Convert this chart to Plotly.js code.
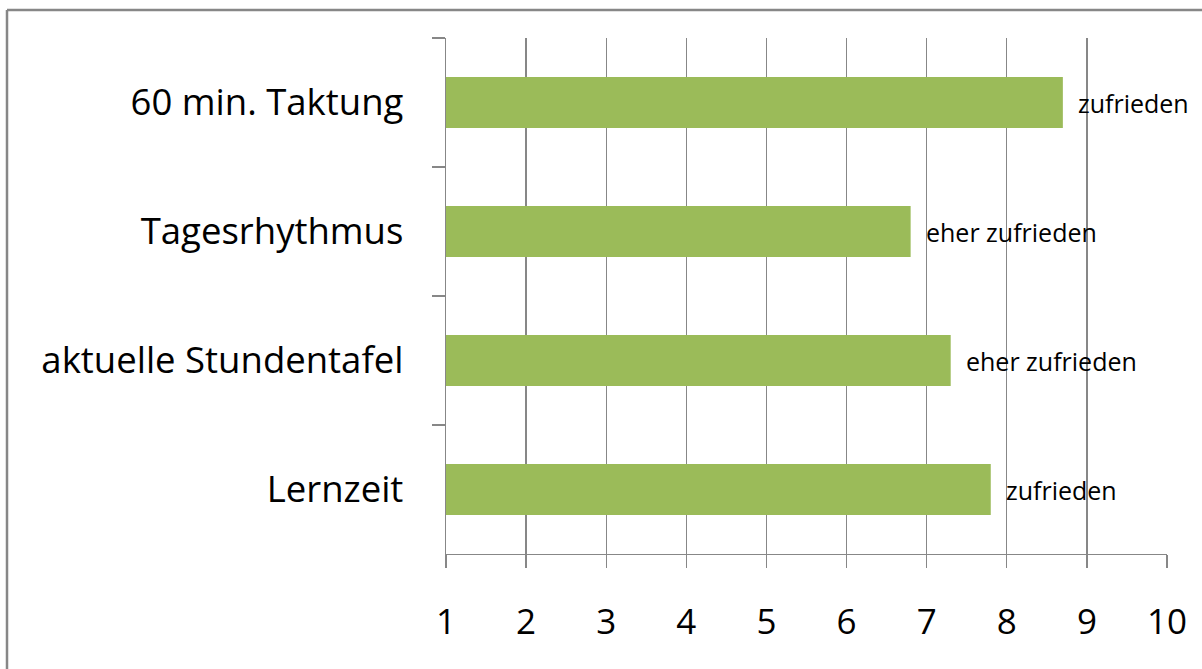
<!DOCTYPE html>
<html>
<head>
<meta charset="utf-8">
<script src="https://cdn.plot.ly/plotly-3.0.1.min.js"></script>
<style>
html,body{margin:0;padding:0;background:#fff;}
#chart{width:1202px;height:669px;}
</style>
</head>
<body>
<div id="chart"></div>
<script>
const categories = ["60 min. Taktung", "Tagesrhythmus", "aktuelle Stundentafel", "Lernzeit"];
const values = [8.7, 6.8, 7.3, 7.8];
const barLabels = ["zufrieden", "eher zufrieden", "eher zufrieden", "zufrieden"];
const tickValues = [1, 2, 3, 4, 5, 6, 7, 8, 9, 10];

const L = 446, R = 1167, T = 38, B = 554;
const W = 1202, H = 669;
const pw = R - L, ph = B - T;

const trace = {
  type: "bar",
  orientation: "h",
  x: values,
  y: categories,
  base: 0,
  marker: {color: "#9bbb59"},
  width: 0.395,
  hoverinfo: "x+y",
  showlegend: false
};

const annotations = categories.map((c, i) => ({
  x: values[i], y: c, xref: "x", yref: "y",
  text: barLabels[i], showarrow: false,
  xanchor: "left", yanchor: "middle", xshift: 13, yshift: 0,
  font: {family: "Open Sans", size: 25, color: "#000"}
}));

const layout = {
  width: W, height: H,
  margin: {l: L, r: W - R, t: T, b: H - B, pad: 0},
  paper_bgcolor: "#fff", plot_bgcolor: "#fff",
  font: {family: "Open Sans", color: "#000"},
  bargap: 0.6,
  xaxis: {
    range: [1, 10],
    tickvals: tickValues,
    ticktext: tickValues.map(String),
    showgrid: true, gridcolor: "#878787", gridwidth: 1.3,
    zeroline: false,
    showline: true, linecolor: "#878787", linewidth: 1.3,
    ticks: "outside", ticklen: 13, tickcolor: "#878787", tickwidth: 1.3,
    tickfont: {family: "Open Sans", size: 35, color: "#000"},
    ticklabelstandoff: 24,
    fixedrange: true
  },
  yaxis: {
    type: "category",
    categoryorder: "array", categoryarray: categories,
    autorange: "reversed",
    tickson: "boundaries",
    showgrid: false, zeroline: false,
    showline: true, linecolor: "#878787", linewidth: 1.3,
    ticks: "outside", ticklen: 13, tickcolor: "#878787", tickwidth: 1.3,
    tickfont: {family: "Open Sans", size: 36.5, color: "#000"},
    ticklabelstandoff: 34,
    fixedrange: true
  },
  annotations: annotations,
  shapes: [
    {type: "line", xref: "paper", yref: "paper",
     x0: (7 - L) / pw, x1: (W + 5 - L) / pw, y0: (B - 10) / ph, y1: (B - 10) / ph,
     line: {color: "#878787", width: 2.5}},
    {type: "line", xref: "paper", yref: "paper",
     x0: (7 - L) / pw, x1: (7 - L) / pw, y0: (B - 10) / ph, y1: (B - H - 5) / ph,
     line: {color: "#878787", width: 2.5}}
  ]
};

Plotly.newPlot("chart", [trace], layout, {displayModeBar: false, staticPlot: true});
</script>
</body>
</html>
